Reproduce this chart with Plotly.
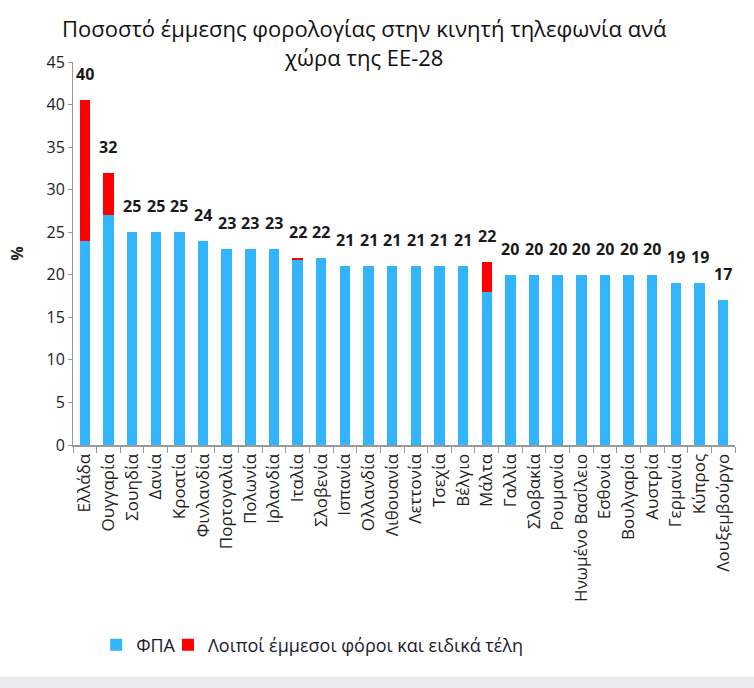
import plotly.graph_objects as go

countries = ["Ελλάδα", "Ουγγαρία", "Σουηδία", "Δανία", "Κροατία", "Φινλανδία",
             "Πορτογαλία", "Πολωνία", "Ιρλανδία", "Ιταλία", "Σλοβενία", "Ισπανία",
             "Ολλανδία", "Λιθουανία", "Λεττονία", "Τσεχία", "Βέλγιο", "Μάλτα",
             "Γαλλία", "Σλοβακία", "Ρουμανία", "Ηνωμένο Βασίλειο", "Εσθονία",
             "Βουλγαρία", "Αυστρία", "Γερμανία", "Κύπρος", "Λουξεμβούργο"]
vat = [24, 27, 25, 25, 25, 24, 23, 23, 23, 21.8, 22, 21, 21, 21, 21, 21, 21, 18,
       20, 20, 20, 20, 20, 20, 20, 19, 19, 17]
other = [16.5, 5, 0, 0, 0, 0, 0, 0, 0, 0.2, 0, 0, 0, 0, 0, 0, 0, 3.5,
         0, 0, 0, 0, 0, 0, 0, 0, 0, 0]
labels = ["40", "32", "25", "25", "25", "24", "23", "23", "23", "22", "22", "21",
          "21", "21", "21", "21", "21", "22", "20", "20", "20", "20", "20", "20",
          "20", "19", "19", "17"]
y_ticks = [0, 5, 10, 15, 20, 25, 30, 35, 40, 45]
title_text = "Ποσοστό έμμεσης φορολογίας στην κινητή τηλεφωνία ανά<br>χώρα της ΕΕ-28"

FONT = "Open Sans, Noto Sans, sans-serif"
BLUE = "#33B5FD"
RED = "#FF0000"

fig = go.Figure()
fig.add_trace(go.Bar(x=countries, y=vat, name="ΦΠΑ", marker_color=BLUE,
                     marker_line_width=0, legend="legend"))
fig.add_trace(go.Bar(x=countries, y=other, name="Λοιποί έμμεσοι φόροι και ειδικά τέλη",
                     marker_color=RED, marker_line_width=0, legend="legend2"))

for c, v, o, t in zip(countries, vat, other, labels):
    fig.add_annotation(x=c, y=v + o, text="<b>" + t + "</b>", showarrow=False,
                       yanchor="bottom", yshift=13,
                       font=dict(family=FONT, size=16, color="#1a1a1a"))

fig.add_annotation(xref="paper", yref="paper", x=0.441, y=1.05, xanchor="center",
                   yanchor="middle", text=title_text, showarrow=False,
                   font=dict(family=FONT, size=22, color="#111"))

legend_common = dict(orientation="h", xanchor="left", y=-0.522, yanchor="middle",
                     font=dict(family=FONT, size=18, color="#1a1a2e"),
                     itemwidth=30, bgcolor="rgba(0,0,0,0)")

fig.update_layout(
    barmode="stack",
    bargap=0.56,
    width=754, height=688,
    margin=dict(l=73, r=19, t=62, b=243),
    paper_bgcolor="white", plot_bgcolor="white",
    font=dict(family=FONT, size=14, color="#222"),
    showlegend=True,
    legend=dict(x=0.035, **legend_common),
    legend2=dict(x=0.1435, **legend_common),
    xaxis=dict(type="category", tickangle=-90, showline=True, linecolor="#999",
               linewidth=2, ticks="outside", tickson="boundaries", ticklen=6,
               tickcolor="#999", showgrid=False,
               tickfont=dict(family=FONT, size=17, color="#222")),
    yaxis=dict(range=[0, 45], tickvals=y_ticks, showline=True, linecolor="#999",
               linewidth=1, ticks="outside", ticklen=4, tickcolor="#999",
               showgrid=False, zeroline=False,
               title=dict(text="<b>%</b>", standoff=18,
                          font=dict(family=FONT, size=16, color="#222")),
               tickfont=dict(family=FONT, size=16, color="#222")),
    shapes=[dict(type="rect", xref="paper", yref="paper", x0=-0.12, x1=1.03,
                 y0=-0.605, y1=-0.64, fillcolor="#E8EAEE", line_width=0, layer="below")],
)

fig.write_html("out.html")
